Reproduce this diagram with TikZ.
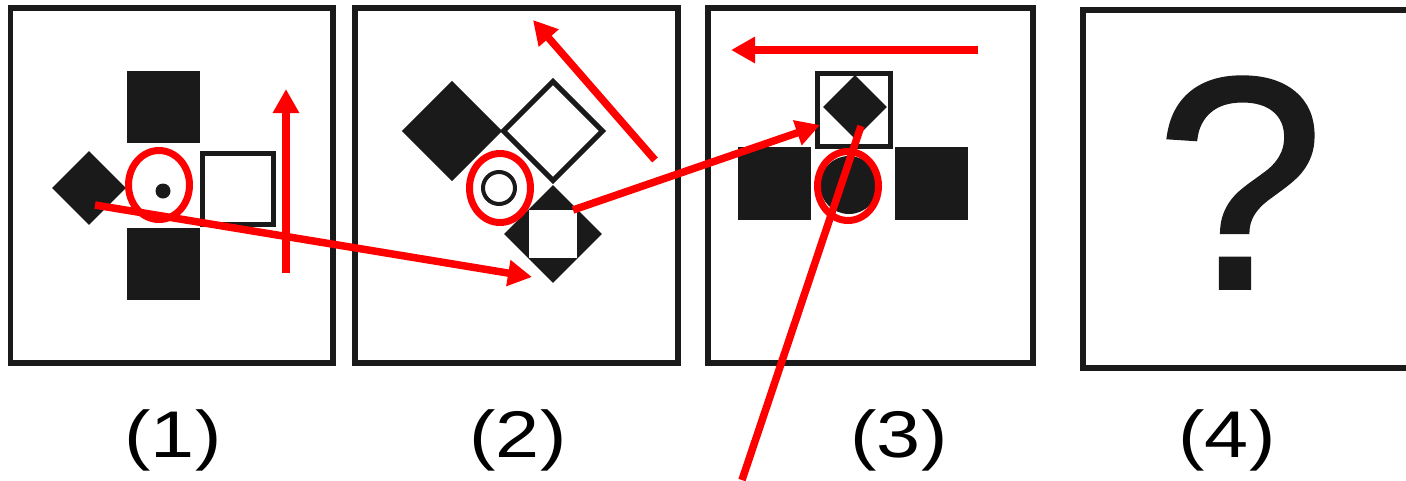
\documentclass[tikz,border=0pt]{standalone}
\usepackage{fontspec}
\setmainfont{Liberation Sans}
\usetikzlibrary{arrows.meta,shapes.geometric}
\definecolor{ink}{RGB}{26,26,26}
\definecolor{mark}{RGB}{255,0,0}
\begin{document}
\begin{tikzpicture}[x=1pt,y=-1pt,
  panel/.style={draw=ink,line width=5.5pt,fill=none,inner sep=0,outer sep=0},
  blk/.style={fill=ink,draw=none,inner sep=0,outer sep=0},
  wsq/.style={draw=ink,fill=white,line width=5pt,inner sep=0,outer sep=0},
  ring/.style={ellipse,draw=mark,line width=7pt,inner sep=0,outer sep=0},
  redarrow/.style={draw=mark,line width=7.5pt,-{Triangle[length=24pt,width=25pt]}},
  redline/.style={draw=mark,line width=7.5pt},
  lbl/.style={inner sep=0,anchor=base,font=\fontsize{66}{66}\selectfont,xscale=1.2}]
\useasboundingbox (0,0) rectangle (1406,480);
\fill[white] (0,0) rectangle (1406,480);

% panels
\node[panel,minimum width=322.5,minimum height=355] (p1) at (171.5,185.5) {};
\node[panel,minimum width=323,minimum height=355] (p2) at (516.5,185.5) {};
\node[panel,minimum width=325,minimum height=355] (p3) at (870.5,185.5) {};
\node[panel,minimum width=340,minimum height=358] (p4) at (1253,189) {};

% panel 1
\node[blk,rectangle,minimum width=73,minimum height=72] (a1) at (163.5,107) {};
\node[blk,rectangle,minimum width=73,minimum height=72] (a2) at (163.5,264) {};
\node[wsq,rectangle,minimum size=71] (a3) at (238,188.5) {};
\node[blk,rectangle,minimum size=52,rotate=45] (a4) at (89,188) {};
\node[blk,circle,minimum size=15] (a5) at (163,191) {};
\node[ring,minimum width=61,minimum height=69] (r1) at (159,185) {};

% panel 2
\node[blk,rectangle,minimum size=71,rotate=45] (b1) at (452,131) {};
\node[wsq,rectangle,minimum size=70,rotate=45] (b2) at (553,131) {};
\node[circle,draw=ink,line width=4pt,minimum size=32,inner sep=0] (b3) at (499,188) {};
\node[blk,rectangle,minimum size=69,rotate=45] (b4) at (553,234) {};
\node[fill=white,draw=none,rectangle,minimum size=48,inner sep=0] (b5) at (553,234) {};
\node[ring,minimum width=61,minimum height=69] (r2) at (500,188) {};

% panel 3
\node[wsq,rectangle,minimum size=73] (c1) at (854,110) {};
\node[blk,rectangle,minimum size=45,rotate=45] (c2) at (855,107) {};
\node[blk,rectangle,minimum size=73] (c3) at (774.5,183.5) {};
\node[blk,rectangle,minimum size=73] (c4) at (931.5,183.5) {};
\node[blk,circle,minimum size=58] (c5) at (849,185) {};
\node[ring,minimum width=61,minimum height=69] (r3) at (848,186) {};

% panel 4
\node[inner sep=0,anchor=base,text=ink,font=\fontsize{302}{302}\selectfont\addfontfeatures{FakeBold=1.2}] (q) at (1240,288) {?};

% red arrows
\coordinate (u0) at (286,273); \coordinate (u1) at (286,89);
\coordinate (l0) at (95,205);  \coordinate (l1) at (532,277);
\coordinate (d0) at (655,160); \coordinate (d1) at (533,20);
\coordinate (m0) at (573,210); \coordinate (m1) at (820,125);
\coordinate (h0) at (978,50);  \coordinate (h1) at (731,50);
\coordinate (s0) at (861,126); \coordinate (s1) at (742,480);
\draw[redarrow] (u0) -- (u1);
\draw[redarrow] (l0) -- (l1);
\draw[redarrow] (d0) -- (d1);
\draw[redarrow] (m0) -- (m1);
\draw[redarrow] (h0) -- (h1);
\draw[redline] (s0) -- (s1);

% labels
\node[lbl] (t1) at (173,457) {(1)};
\node[lbl] (t2) at (518,457) {(2)};
\node[lbl] (t3) at (899,457) {(3)};
\node[lbl] (t4) at (1227,457) {(4)};
\end{tikzpicture}
\end{document}
